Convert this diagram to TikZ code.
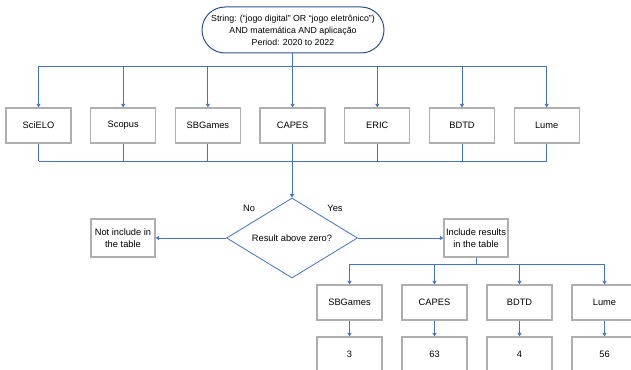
\documentclass[tikz,border=0pt]{standalone}
\usepackage{fontspec}
\setmainfont{Liberation Sans}
\usetikzlibrary{
    arrows.meta,
    shapes.geometric,
    positioning
}
\definecolor{link blue}{RGB}{68,114,196}
\definecolor{box gray}{RGB}{175,175,175}
\definecolor{query navy}{RGB}{47,82,143}
\tikzset{
    % Arrows
    arrow tip/.tip={Triangle[length=3.5pt,width=4pt]},
    arr/.style={->,>={arrow tip}},
    link/.style={link blue,line width=0.9pt},
    %
    % Nodes
    base box/.style={draw=box gray,line width=1.3pt,fill=white,minimum width=65pt,minimum height=35pt,inner sep=1pt,align=center},
    query/.style={draw=query navy,line width=1pt,fill=white,rounded corners=23pt,minimum width=182pt,minimum height=46pt,align=center,font=\fontsize{8.8}{12}\selectfont},
    decision/.style={diamond,draw=link blue,line width=0.8pt,fill=white,aspect=1.6,inner sep=0pt,minimum width=131pt,minimum height=80pt}
}
\tikzstyle{every node}=[font=\fontsize{9.3}{12}\selectfont]

\begin{document}
\begin{tikzpicture}[x=1pt,y=-1pt]
    \useasboundingbox (0,0) rectangle (631,369);
    \node[query] (query) at (293,30) {String: (“jogo digital” OR “jogo eletrônico”)\\AND matemática AND aplicação\\Period: 2020 to 2022};
    \coordinate (top bus) at (292,66);
    \coordinate (bottom bus) at (292,161);
    \draw[link] (query.south -| top bus) -- (top bus);
    % databases
    \foreach \name/\txt [count=\i] in {scielo/SciELO,scopus/Scopus,sbgames/SBGames,capes/CAPES,eric/ERIC,bdtd/BDTD,lume/Lume}{
        \node[base box] (\name) at ({38.5+84.7*(\i-1)},125.5) {\txt};
        \draw[link,arr] (\name.north |- top bus) -- (\name.north);
        \draw[link] (\name.south) -- (\name.south |- bottom bus);
    }
    \draw[link] (scielo.north |- top bus) -- (lume.north |- top bus);
    \draw[link] (scielo.south |- bottom bus) -- (lume.south |- bottom bus);
    % decision
    \node[decision] (check) at (292,238) {Result above zero?};
    \draw[link,arr] (bottom bus) -- (check.north);
    \node[base box,minimum width=64pt,minimum height=38pt] (skip) at (123,238) {Not include in\\the table};
    \node[base box,minimum width=64pt,minimum height=38pt] (keep) at (476,238) {Include results\\in the table};
    \draw[link,arr] (check.west) -- (skip.east);
    \draw[link,arr] (check.east) -- (keep.west);
    \node (no) at (249,208) {No};
    \node (yes) at (335,208) {Yes};
    % results
    \coordinate (result bus) at (476,264);
    \draw[link] (keep.south) -- (result bus);
    \foreach \name/\txt/\num [count=\i] in {rsbgames/SBGames/3,rcapes/CAPES/63,rbdtd/BDTD/4,rlume/Lume/56}{
        \node[base box] (\name) at ({349.5+85*(\i-1)},302.5) {\txt};
        \node[base box] (\name n) at ({349.5+85*(\i-1)},354.5) {\num};
        \draw[link,arr] (\name.north |- result bus) -- (\name.north);
        \draw[link,arr] (\name.south) -- (\name n.north);
    }
    \draw[link] (rsbgames.north |- result bus) -- (rlume.north |- result bus);
\end{tikzpicture}
\end{document}
